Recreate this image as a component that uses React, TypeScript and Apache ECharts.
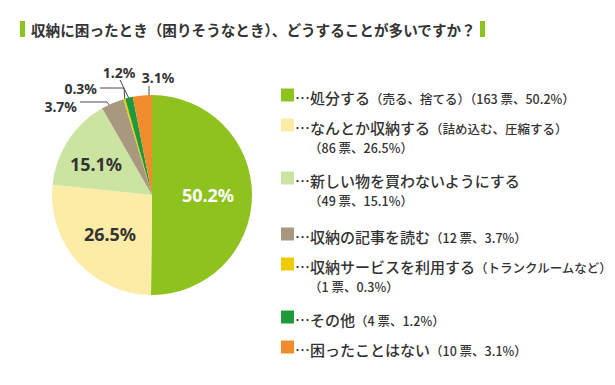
import React, { useEffect, useRef } from "react";
import * as echarts from "echarts";

// ---- data ----
const categories = [
  "処分する",
  "なんとか収納する",
  "新しい物を買わないようにする",
  "収納の記事を読む",
  "収納サービスを利用する",
  "その他",
  "困ったことはない",
];
const notes = ["（売る、捨てる）", "（詰め込む、圧縮する）", "", "", "（トランクルームなど）", "", ""];
const votes = [163, 86, 49, 12, 1, 4, 10];
const percents = [50.2, 26.5, 15.1, 3.7, 0.3, 1.2, 3.1];
const colors = ["#8dc21f", "#fdeca6", "#cbe4a2", "#a8987f", "#eecb00", "#1f9a3a", "#f08c2e"];
const title = "収納に困ったとき（困りそうなとき）、どうすることが多いですか？";

// ---- layout ----
const CX = 152;
const CY = 195;
const R = 100;
const TEXT = "#333333";
const SANS = "'Noto Sans CJK JP', 'Noto Sans', sans-serif";
const NUM = "'Noto Sans', 'Noto Sans CJK JP', sans-serif";

// legend: whether the vote count wraps to a second line, and line-1 centre y
const legendWrap = [false, true, true, false, true, false, false];
const legendY = [95, 125, 178, 234, 264, 317, 347];

// inner label centres
const innerPos: Record<number, [number, number]> = {
  0: [208, 195],
  1: [110, 234],
  2: [96, 164],
};
// outer labels: text position, alignment, anchor (fraction across slice, radius fraction), elbow
const outerPos: Record<number, any> = {
  3: { x: 77, y: 106, align: "right", af: 0.4, rf: 0.93, elbow: [[107, 102], [80, 102]] },
  4: { x: 97, y: 88, align: "right", af: 0.5, rf: 0.98, elbow: [[124, 88], [100, 88]] },
  5: { x: 119, y: 72, align: "center", af: 0.5, rf: 0.98, elbow: [[120, 80]] },
  6: { x: 158, y: 77, align: "center", af: 0.84, rf: 0.97, elbow: null },
};

function anchorPoint(i: number, af: number, rf: number): [number, number] {
  const total = votes.reduce((a, b) => a + b, 0);
  let cum = 0;
  for (let k = 0; k < i; k++) cum += votes[k];
  const t = (2 * Math.PI * (cum + votes[i] * af)) / total;
  return [CX + R * rf * Math.sin(t), CY - R * rf * Math.cos(t)];
}

export default function App() {
  const ref = useRef<HTMLDivElement>(null);
  useEffect(() => {
    if (!ref.current) return;
    const chart = echarts.init(ref.current, undefined, { renderer: "svg" });

    const data = categories.map((name, i) => {
      const inner = i < 3;
      return {
        name,
        value: votes[i],
        itemStyle: { color: colors[i] },
        label: inner
          ? {
              position: "inside",
              fontSize: 18,
              fontWeight: "bold",
              fontFamily: NUM,
              color: i === 0 ? "#ffffff" : TEXT,
            }
          : {
              position: "outside",
              fontSize: 14,
              fontWeight: "bold",
              fontFamily: NUM,
              color: TEXT,
            },
        labelLine: inner
          ? { show: false }
          : { show: true, lineStyle: { color: "#4a4a4a", width: 1 } },
      };
    });

    const graphics: any[] = [];
    // title bars
    graphics.push({ type: "rect", shape: { x: 20, y: 21, width: 5, height: 16 }, style: { fill: "#8dc21f" } });
    graphics.push({ type: "rect", shape: { x: 480, y: 21, width: 5, height: 16 }, style: { fill: "#8dc21f" } });
    graphics.push({
      type: "text",
      x: 31,
      y: 29,
      style: {
        text: title,
        fontSize: 14.6,
        fontWeight: "bold",
        fontFamily: SANS,
        fill: "#333333",
        verticalAlign: "middle",
      },
    });

    // legend
    categories.forEach((name, i) => {
      const y = legendY[i];
      const count = `（${votes[i]} 票、${percents[i]}%）`;
      graphics.push({
        type: "rect",
        shape: { x: 281, y: y - 6.5, width: 13, height: 13 },
        style: { fill: colors[i] },
      });
      const line1 = legendWrap[i]
        ? `{m|…${name}}{s|${notes[i]}}`
        : `{m|…${name}}{s|${notes[i]}${count}}`;
      graphics.push({
        type: "text",
        x: 295,
        y,
        style: {
          text: line1,
          verticalAlign: "middle",
          fill: TEXT,
          fontFamily: SANS,
          rich: {
            m: { fontSize: 15, fontWeight: 500, fontFamily: SANS, fill: TEXT, lineHeight: 20, verticalAlign: "bottom" },
            s: { fontSize: 12.5, fontWeight: 500, fontFamily: SANS, fill: TEXT, lineHeight: 20, verticalAlign: "bottom" },
          },
        },
      });
      if (legendWrap[i]) {
        graphics.push({
          type: "text",
          x: 309,
          y: y + 22,
          style: {
            text: count,
            fontSize: 12.5,
            fontWeight: 500,
            fontFamily: SANS,
            fill: TEXT,
            verticalAlign: "middle",
          },
        });
      }
    });

    chart.setOption({
      animation: false,
      backgroundColor: "#ffffff",
      series: [
        {
          type: "pie",
          center: [CX, CY],
          radius: [0, R],
          startAngle: 90,
          clockwise: true,
          avoidLabelOverlap: false,
          data,
          label: {
            formatter: (p: any) => `${percents[p.dataIndex]}%`,
          },
          labelLayout: (p: any) => {
            const i = p.dataIndex;
            if (innerPos[i]) {
              return { x: innerPos[i][0], y: innerPos[i][1], align: "center", verticalAlign: "middle" };
            }
            const o = outerPos[i];
            const a = anchorPoint(i, o.af, o.rf);
            const pts = o.elbow ? [a, ...o.elbow] : [a, [a[0], 86]];
            return { x: o.x, y: o.y, align: o.align, verticalAlign: "middle", labelLinePoints: pts };
          },
        },
      ],
      graphic: graphics,
    });
    return () => chart.dispose();
  }, []);
  return (
    <div
      ref={ref}
      style={{ position: "fixed", left: 0, top: 0, width: 615, height: 385, background: "#fff" }}
    />
  );
}
